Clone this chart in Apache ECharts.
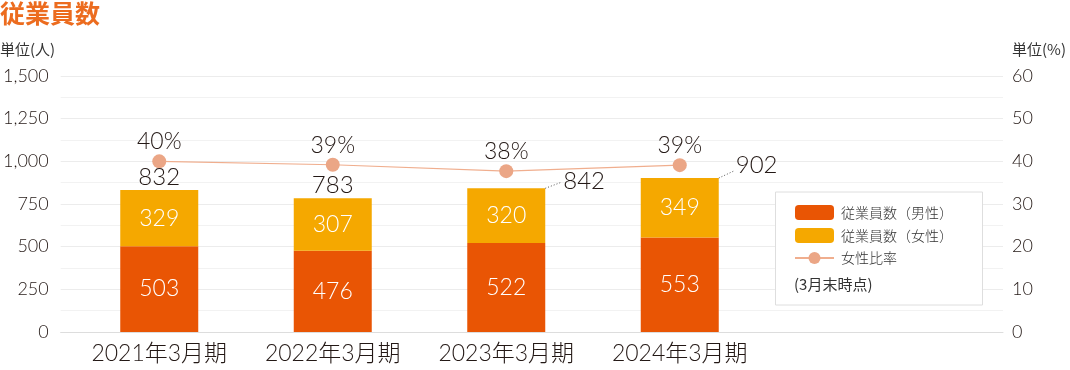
<!DOCTYPE html>
<html>
<head>
<meta charset="utf-8">
<script src="https://cdn.jsdelivr.net/npm/echarts@6/dist/echarts.min.js"></script>
<style>
  html, body { margin: 0; padding: 0; background: #fff; }
  #chart { width: 1070px; height: 370px; }
</style>
</head>
<body>
<div id="chart"></div>
<script>
// ---- data ----
const categories = ['2021年3月期', '2022年3月期', '2023年3月期', '2024年3月期'];
const maleCounts = [503, 476, 522, 553];
const femaleCounts = [329, 307, 320, 349];
const femaleRatio = [40.0, 39.2, 37.7, 39.1];
const leftTicks = { min: 0, max: 1500, interval: 250 };
const rightTicks = { min: 0, max: 60, interval: 10 };

// ---- styling ----
const FONT = 'Lato, "Noto Sans CJK JP", sans-serif';
const JP = '"Noto Sans CJK JP", "Noto Sans", sans-serif';
const W = 300;
const TXT = '#231815';
const BAR_W = 78;
// how each total label is placed (presentation only)
const totalLayout = [
  { side: false, gap: 1 },
  { side: false, gap: 1 },
  { side: true, lineDx: 16, lineDy: -6, textDy: -7 },
  { side: true, lineDx: 15, lineDy: -7, textDy: -13 }
];

const totals = maleCounts.map((m, i) => m + femaleCounts[i]);

const chart = echarts.init(document.getElementById('chart'), null, { renderer: 'canvas' });

const option = {
  animation: false,
  backgroundColor: '#fff',
  textStyle: { fontFamily: FONT, fontWeight: W },
  title: {
    text: '従業員数', left: 0, top: 1, padding: 0,
    textStyle: { fontFamily: JP, fontSize: 25, fontWeight: 'bold', color: '#EC6C1F' }
  },
  grid: [
    { left: 58, right: 67, top: 76, bottom: 38 },
    { left: 72.5, width: 694, top: 76, bottom: 38 }
  ],
  xAxis: [
    { gridIndex: 0, type: 'value', min: 0, max: 1,
      axisLine: { show: true, lineStyle: { color: '#dddddd', width: 1 } },
      axisTick: { show: false }, axisLabel: { show: false }, splitLine: { show: false } },
    { gridIndex: 1, type: 'category', data: categories,
      axisLine: { show: false }, axisTick: { show: false },
      axisLabel: { interval: 0, hideOverlap: false, fontSize: 23, color: TXT, margin: 10, fontFamily: FONT, fontWeight: W } }
  ],
  yAxis: [
    { gridIndex: 0, type: 'value', position: 'left', min: leftTicks.min, max: leftTicks.max, interval: leftTicks.interval,
      axisLine: { show: false }, axisTick: { show: false },
      axisLabel: { fontSize: 18, color: TXT, margin: 12, fontWeight: W,
        formatter: v => v.toLocaleString('en-US') },
      splitLine: { show: true, lineStyle: { color: '#ececec', width: 1 } },
      minorTick: { show: false, splitNumber: 2 },
      minorSplitLine: { show: true, lineStyle: { color: '#f2f2f2', width: 1 } } },
    { gridIndex: 0, type: 'value', position: 'right', min: rightTicks.min, max: rightTicks.max, interval: rightTicks.interval,
      axisLine: { show: false }, axisTick: { show: false },
      axisLabel: { fontSize: 18, color: TXT, margin: 9, fontWeight: W },
      splitLine: { show: false } },
    { gridIndex: 1, type: 'value', min: leftTicks.min, max: leftTicks.max, show: false, splitLine: { show: false } },
    { gridIndex: 1, type: 'value', min: rightTicks.min, max: rightTicks.max, show: false, splitLine: { show: false } }
  ],
  legend: {
    orient: 'vertical', left: 794, top: 205, padding: 0,
    itemWidth: 39, itemHeight: 15, itemGap: 8,
    textStyle: { fontFamily: JP, fontSize: 14, color: '#333', padding: [0, 0, 0, 2] },
    data: ['従業員数（男性）', '従業員数（女性）', '女性比率'],
    z: 5
  },
  graphic: [
    { type: 'rect', left: 775, top: 191.5, z: 1,
      shape: { width: 207, height: 113 },
      style: { fill: '#ffffff', stroke: '#dedede', lineWidth: 1 } },
    { type: 'text', left: 794, top: 277, z: 5,
      style: { text: '(3月末時点)', fontFamily: JP, fontSize: 15, fill: '#333' } },
    { type: 'text', left: 0, top: 42,
      style: { text: '単位(人)', fontFamily: JP, fontSize: 15, fill: '#333' } },
    { type: 'text', left: 1012, top: 42,
      style: { text: '単位(%)', fontFamily: JP, fontSize: 15, fill: '#333' } }
  ],
  series: [
    { name: '従業員数（男性）', type: 'bar', xAxisIndex: 1, yAxisIndex: 2, stack: 'emp',
      barWidth: BAR_W, data: maleCounts,
      itemStyle: { color: '#E95504' },
      label: { show: true, position: 'inside', color: '#fff', fontSize: 23, fontFamily: FONT, fontWeight: W } },
    { name: '従業員数（女性）', type: 'bar', xAxisIndex: 1, yAxisIndex: 2, stack: 'emp',
      barWidth: BAR_W, data: femaleCounts,
      itemStyle: { color: '#F5A800' },
      label: { show: true, position: 'inside', color: '#fff', fontSize: 23, fontFamily: FONT, fontWeight: W } },
    { name: '女性比率', type: 'line', xAxisIndex: 1, yAxisIndex: 3, data: femaleRatio,
      symbol: 'circle', symbolSize: 14, z: 4,
      itemStyle: { color: '#EBA686' },
      lineStyle: { color: '#F0AE8E', width: 1.2 },
      label: { show: true, position: 'top', distance: 1, fontSize: 23, color: TXT, fontFamily: FONT, fontWeight: W,
        formatter: p => Math.round(p.value) + '%' } },
    { name: 'totals', type: 'custom', xAxisIndex: 1, yAxisIndex: 2, z: 5,
      data: totals.map((t, i) => [i, t]),
      encode: { x: 0, y: 1 },
      renderItem: function (params, api) {
        const i = params.dataIndex;
        const total = api.value(1);
        const p = api.coord([api.value(0), total]);
        const lay = totalLayout[i];
        const font = { fontSize: 24, fontFamily: FONT, fontWeight: W, fill: TXT };
        if (!lay.side) {
          return { type: 'text', style: Object.assign({ text: String(total), x: p[0], y: p[1] - lay.gap,
            align: 'center', verticalAlign: 'bottom' }, font) };
        }
        const x0 = p[0] + BAR_W / 2, y0 = p[1];
        return { type: 'group', children: [
          { type: 'polyline', shape: { points: [[x0, y0], [x0 + lay.lineDx, y0 + lay.lineDy]] },
            style: { stroke: '#555', lineWidth: 1, lineDash: [1, 2], fill: null } },
          { type: 'text', style: Object.assign({ text: String(total), x: x0 + lay.lineDx + 2, y: y0 + lay.textDy,
            align: 'left', verticalAlign: 'middle' }, font) }
        ] };
      } }
  ]
};
chart.setOption(option);
</script>
</body>
</html>
